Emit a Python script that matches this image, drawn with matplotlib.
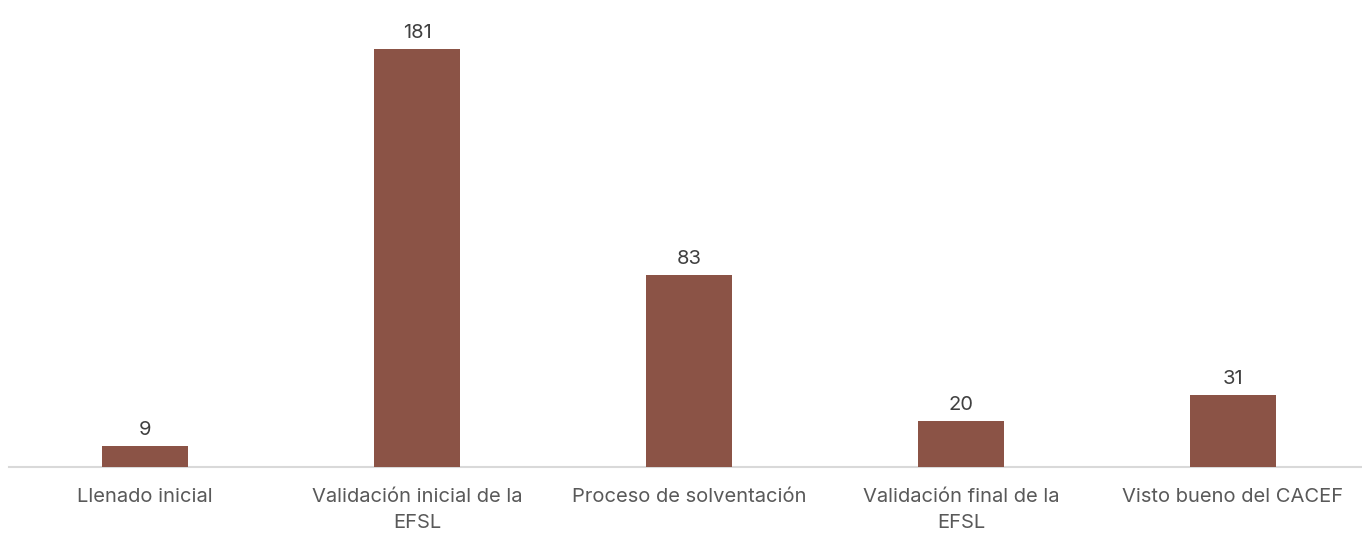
import matplotlib.pyplot as plt

etapas = ["Llenado inicial", "Validación inicial de la\nEFSL", "Proceso de solventación",
          "Validación final de la\nEFSL", "Visto bueno del CACEF"]
valores = [9, 181, 83, 20, 31]

plt.rcParams['font.family'] = ['Inter', 'DejaVu Sans']

fig = plt.figure(figsize=(13.62, 5.36), dpi=100)
fig.set_facecolor('white')
ax = fig.add_axes([9 / 1362, 69 / 536, 1360 / 1362, 462 / 536])

x = range(len(etapas))
bars = ax.bar(x, valores, width=0.315, color='#8B5346', zorder=3)
ax.set_xlim(-0.5, 4.5)
ax.set_ylim(0, 200)

for b, v in zip(bars, valores):
    ax.annotate(str(v), (b.get_x() + b.get_width() / 2, v), xytext=(0, 5),
                textcoords='offset points', ha='center', va='bottom',
                fontsize=14.5, color='#404040')

ax.set_xticks(list(x))
ax.set_xticklabels(etapas, fontsize=14.5, color='#595959', linespacing=1.55)
ax.tick_params(axis='x', length=0, pad=15)
ax.set_yticks([])
for s in ['top', 'right', 'left']:
    ax.spines[s].set_visible(False)
ax.spines['bottom'].set_color('#d9d9d9')
ax.spines['bottom'].set_linewidth(1.5)
ax.set_facecolor('none')

fig.savefig('out.png', dpi=100, facecolor='white')
